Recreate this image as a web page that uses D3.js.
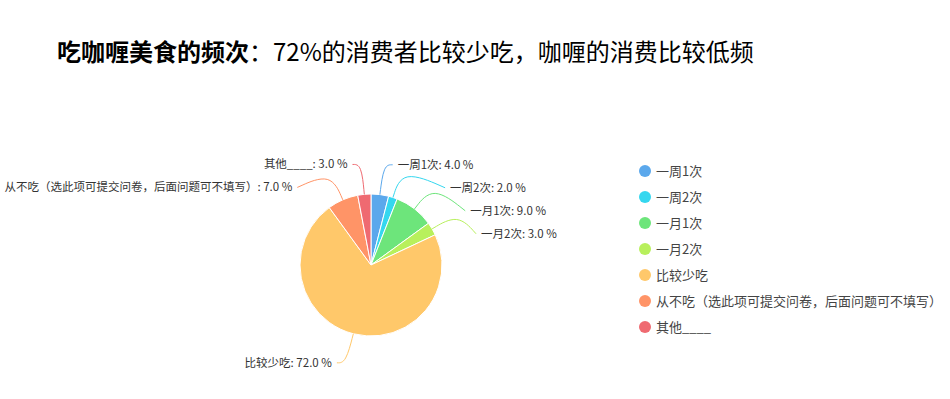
<!DOCTYPE html>
<html>
<head>
<meta charset="utf-8">
<script src="https://cdn.jsdelivr.net/npm/d3@7"></script>
<style>
  body { margin: 0; background: #fff; }
  svg { display: block; font-family: "Noto Sans CJK SC", "Noto Sans", sans-serif; }
</style>
</head>
<body>
<div class="svg-content"></div>
<script>
// chart data
var categories = ['一周1次', '一周2次', '一月1次', '一月2次', '比较少吃',
  '从不吃（选此项可提交问卷，后面问题可不填写）', '其他____'];
var values = [4.0, 2.0, 9.0, 3.0, 72.0, 7.0, 3.0];
var colors = ['#5ba8ec', '#35d7ef', '#6de57b', '#b8f05c', '#ffc86a', '#ff9467', '#ef6a71'];
var titleBold = '吃咖喱美食的频次';
var titleRest = '：72%的消费者比较少吃，咖喱的消费比较低频';

var width = 950, height = 399;
var cx = 371, cy = 265, r = 71;
var len = 30, len2 = 9, dist = 5;   // label line lengths, gap to text
var labelH = 23;                    // min spacing between labels

var svg = d3.select('.svg-content').append('svg')
  .attr('width', width).attr('height', height);

// title
var title = svg.append('text')
  .attr('x', 57).attr('y', 61)
  .attr('font-size', '24px').attr('fill', '#000');
title.append('tspan').attr('font-weight', 'bold').text(titleBold);
title.append('tspan').text(titleRest);

var data = categories.map(function(c, i) {
  return {name: c, value: values[i], color: colors[i]};
});

var pie = d3.pie().sort(null).value(function(d) { return d.value; });
var arcs = pie(data);
var arc = d3.arc().innerRadius(0).outerRadius(r);

var g = svg.append('g').attr('transform', 'translate(' + cx + ',' + cy + ')');
g.selectAll('path.slice')
  .data(arcs)
  .enter().append('path')
  .attr('class', 'slice')
  .attr('d', arc)
  .attr('fill', function(d) { return d.data.color; })
  .attr('stroke', '#fff')
  .attr('stroke-width', 1);

// label layout: push overlapping labels down, then put them back on an ellipse
var labels = arcs.map(function(d) {
  var a = (d.startAngle + d.endAngle) / 2;
  var s = Math.sin(a), c = Math.cos(a);
  var l = {
    d: d, dir: s < 0 ? -1 : 1,
    x0: s * r, y0: -c * r,
    x2: s * (r + len), y2: -c * (r + len)
  };
  l.y = l.y2;
  l.tx = l.x2 + l.dir * (len2 + dist);
  return l;
});

function adjust(list) {
  list.sort(function(a, b) { return a.y - b.y; });
  var lastY = -Infinity, moved = false;
  list.forEach(function(l) {
    if (l.y < lastY) { l.y = lastY; moved = true; }
    lastY = l.y + labelH;
  });
  if (!moved) return;
  var rA = r + len;
  [list.filter(function(l) { return l.y <= 0; }),
   list.filter(function(l) { return l.y > 0; })].forEach(function(semi) {
    if (!semi.length) return;
    var far = semi.reduce(function(p, l) { return Math.abs(l.y) >= Math.abs(p.y) ? l : p; });
    var dxm = Math.abs(far.x2), dym = Math.abs(far.y);
    var rB = dxm < rA ? Math.sqrt(dym * dym / (1 - dxm * dxm / rA / rA)) : rA;
    semi.forEach(function(l) {
      var k = Math.max(0, 1 - l.y * l.y / rB / rB);
      l.tx = l.dir * (Math.sqrt(k) * rA + len2 + dist);
    });
  });
}
adjust(labels.filter(function(l) { return l.dir > 0; }));
adjust(labels.filter(function(l) { return l.dir < 0; }));

var line = d3.line().curve(d3.curveBasis);

g.selectAll('path.label-line')
  .data(labels)
  .enter().append('path')
  .attr('class', 'label-line')
  .attr('fill', 'none')
  .attr('stroke', function(l) { return l.d.data.color; })
  .attr('stroke-width', 1)
  .attr('d', function(l) {
    return line([[l.x0, l.y0], [l.x2, l.y2], [l.tx - l.dir * dist, l.y]]);
  });

g.selectAll('text.label')
  .data(labels)
  .enter().append('text')
  .attr('class', 'label')
  .attr('x', function(l) { return l.tx; })
  .attr('y', function(l) { return l.y; })
  .attr('dy', '0.35em')
  .attr('text-anchor', function(l) { return l.dir > 0 ? 'start' : 'end'; })
  .attr('font-size', '11.5px')
  .attr('fill', '#333')
  .text(function(l) { return l.d.data.name + ': ' + l.d.data.value.toFixed(1) + ' %'; });

// legend
var legendY = d3.scalePoint().domain(categories).range([171, 327]);
var legend = svg.append('g').selectAll('g')
  .data(data)
  .enter().append('g')
  .attr('transform', function(d) { return 'translate(645,' + legendY(d.name) + ')'; });

legend.append('circle')
  .attr('r', 6)
  .attr('fill', function(d) { return d.color; });

legend.append('text')
  .attr('x', 11)
  .attr('dy', '0.35em')
  .attr('font-size', '13px')
  .attr('fill', '#444')
  .text(function(d) { return d.name; });
</script>
</body>
</html>
